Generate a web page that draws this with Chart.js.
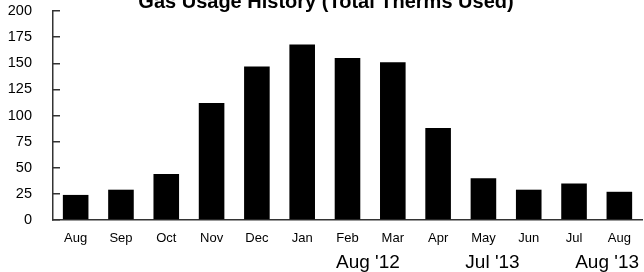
<!DOCTYPE html>
<html>
<head>
<meta charset="utf-8">
<script src="https://cdn.jsdelivr.net/npm/chart.js@4"></script>
<style>
  html, body { margin: 0; padding: 0; background: #fff; }
  #wrap { width: 644px; height: 272px; }
</style>
</head>
<body>
<div id="wrap"><canvas id="grafica-gas"></canvas></div>
<script>
// datos
const meses = ["Aug", "Sep", "Oct", "Nov", "Dec", "Jan", "Feb", "Mar", "Apr", "May", "Jun", "Jul", "Aug"];
const termias = [24, 29, 44, 112, 147, 168, 155, 151, 88, 40, 29, 35, 27];
const ticksY = [0, 25, 50, 75, 100, 125, 150, 175, 200];
const fechas = ["Aug '12", "Jul '13", "Aug '13"];
const titulo = "Gas Usage History (Total Therms Used)";

const FUENTE = "'Liberation Sans', Arial, Helvetica, sans-serif";

// titulo cortado arriba y fechas debajo del eje
const textosExtra = {
  id: "textosExtra",
  afterDraw(chart) {
    const ctx = chart.ctx;
    const x = chart.scales.x;
    ctx.save();
    ctx.fillStyle = "#000";
    ctx.textBaseline = "alphabetic";
    ctx.textAlign = "center";
    ctx.font = "bold 20px " + FUENTE;
    ctx.fillText(titulo, chart.width / 2 + 4, 7.5);

    ctx.font = "19px " + FUENTE;
    const pos = [6.45, 9.2, 11.73];
    fechas.forEach((f, i) => {
      ctx.fillText(f, x.getPixelForValue(pos[i]), 268);
    });
    ctx.restore();
  }
};

new Chart(document.getElementById("grafica-gas"), {
  type: "bar",
  data: {
    labels: meses,
    datasets: [{
      label: "Therms",
      data: termias,
      backgroundColor: "#000",
      borderWidth: 0,
      categoryPercentage: 1,
      barPercentage: 0.565
    }]
  },
  options: {
    responsive: true,
    maintainAspectRatio: false,
    animation: false,
    layout: { padding: { top: 11, right: 2, left: 0, bottom: 0 } },
    plugins: {
      legend: { display: false },
      tooltip: { enabled: false },
      title: { display: false }
    },
    scales: {
      x: {
        grid: { display: false, drawTicks: false },
        border: { display: true, color: "#333", width: 1.5 },
        ticks: {
          color: "#000",
          font: { family: FUENTE, size: 13 },
          padding: 11,
          maxRotation: 0,
          autoSkip: false
        },
        afterFit(scale) { scale.height = 52; }
      },
      y: {
        min: 0,
        max: 200,
        afterBuildTicks(scale) { scale.ticks = ticksY.map(v => ({ value: v })); },
        grid: {
          drawOnChartArea: false,
          drawTicks: true,
          tickLength: -7,
          color: "#333",
          lineWidth: 1.5
        },
        border: { display: true, color: "#333", width: 1.5 },
        ticks: {
          color: "#000",
          font: { family: FUENTE, size: 14.5 },
          padding: 28
        },
        afterFit(scale) {
          scale.width = 53;
          // el padding de las etiquetas no debe empujar el area del grafico
          scale.paddingTop = 0;
          scale.paddingBottom = 0;
        }
      }
    }
  },
  plugins: [textosExtra]
});
</script>
</body>
</html>
